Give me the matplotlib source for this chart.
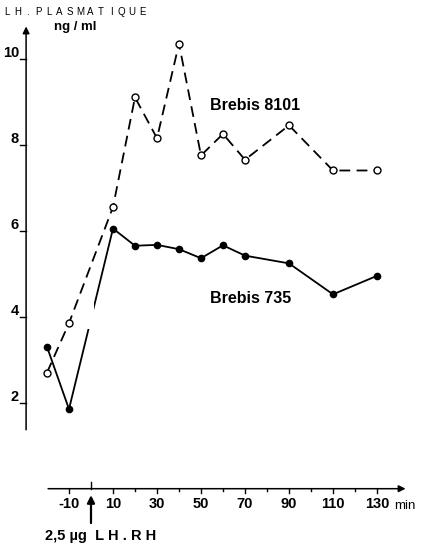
import matplotlib
matplotlib.use('Agg')
import matplotlib.pyplot as plt
from matplotlib.patches import Rectangle

plt.rcParams['font.family'] = ['Liberation Sans', 'DejaVu Sans']

# Data (time in min, LH in ng/ml)
minutes = [-20, -10, 10, 20, 30, 40, 50, 60, 70, 90, 110, 130]
brebis_8101 = [2.7, 3.85, 6.55, 9.1, 8.15, 10.35, 7.75, 8.25, 7.65, 8.45, 7.4, 7.4]
brebis_735 = [3.3, 1.85, 6.05, 5.65, 5.67, 5.57, 5.36, 5.66, 5.42, 5.24, 4.52, 4.95]
x_ticks = [-10, 10, 30, 50, 70, 90, 110, 130]
y_ticks = [2, 4, 6, 8, 10]

fig = plt.figure(figsize=(4.21, 5.47), dpi=100)
ax = fig.add_axes([0, 0, 1, 1])
ax.set_xlim(-41.36, 150)
ax.set_ylim(-1.356, 11.365)
ax.axis('off')

# series
ax.plot(minutes, brebis_8101, color='black', lw=1.3, ls=(0, (6, 3.5)),
        marker='o', ms=5, mfc='white', mec='black', mew=1.0, zorder=3)
ax.plot(minutes, brebis_735, color='black', lw=1.3, ls='-',
        marker='o', ms=4.5, mfc='black', mec='black', zorder=3)
# break in the solid line at injection time
ax.add_patch(Rectangle((-1.6, 3.72), 2.8, 0.6, facecolor='white',
                       edgecolor='none', zorder=4))

# y axis (hand drawn style)
y_ax = -29.5
ax.annotate('', xy=(y_ax, 10.75), xytext=(y_ax, 1.37),
            arrowprops=dict(arrowstyle='-|>', color='black', lw=1.1,
                            mutation_scale=10, shrinkA=0, shrinkB=0))
for v in y_ticks:
    ax.plot([y_ax - 2.7, y_ax], [v, v], color='black', lw=1.0)
    ax.text(y_ax - 3.2, v - 0.02, str(v), ha='right', va='bottom',
            fontsize=10.5, fontweight='bold')

# x axis
ax.annotate('', xy=(143, 0), xytext=(-19.5, 0),
            arrowprops=dict(arrowstyle='-|>', color='black', lw=1.1,
                            mutation_scale=10, shrinkA=0, shrinkB=0))
for t in x_ticks:
    ax.plot([t, t], [0, -0.1], color='black', lw=1.0)
    ax.text(t, -0.2, str(t), ha='center', va='top', fontsize=10.5,
            fontweight='bold')
for t in range(20, 130, 20):
    ax.plot([t, t], [0, -0.05], color='black', lw=1.0)
ax.plot([0, 0], [0, 0.16], color='black', lw=1.0)
ax.text(138, -0.27, 'min', ha='left', va='top', fontsize=9.5)

# injection arrow
ax.annotate('', xy=(0, -0.15), xytext=(0, -0.8),
            arrowprops=dict(arrowstyle='-|>', color='black', lw=1.6,
                            mutation_scale=11, shrinkA=0, shrinkB=0))
ax.text(-20.9, -1.1, '2,5 µg  L H . R H', ha='left', va='center',
        fontsize=10.5, fontweight='bold')

# title letters, widely spaced
title = 'LH.PLASMATIQUE'
for i, ch in enumerate(title):
    ax.text(-38.2 + i * 4.73, 11.09, ch, ha='center', va='center',
            fontsize=7)
ax.text(-7.3, 10.74, 'ng / ml', ha='center', va='center', fontsize=9.5,
        fontweight='bold')
ax.text(54, 8.9, 'Brebis 8101', ha='left', va='center', fontsize=11.5,
        fontweight='bold')
ax.text(54, 4.43, 'Brebis 735', ha='left', va='center', fontsize=11.5,
        fontweight='bold')

fig.savefig('out.png', dpi=100, facecolor='white')
